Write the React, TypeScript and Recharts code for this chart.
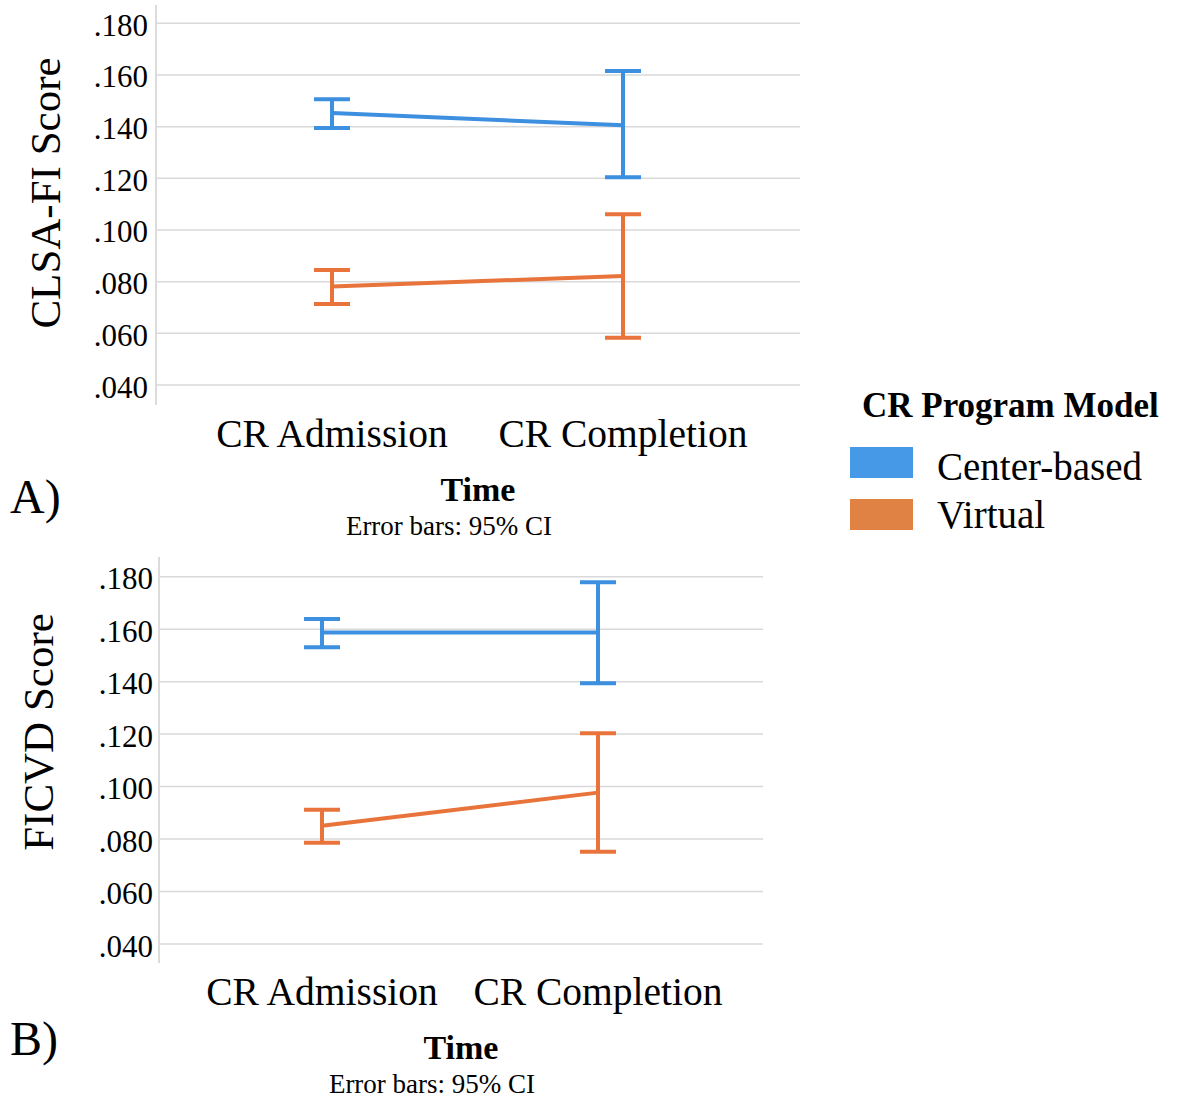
import React from "react";
import { LineChart, Line, XAxis, YAxis, CartesianGrid, ErrorBar, Legend } from "recharts";

const FONT = '"Liberation Serif", "Times New Roman", serif';
const BLUE = "#3d8fe0";
const ORANGE = "#e8733b";
const SWATCH: Record<string, string> = { center: "#4599e6", virtual: "#e08243" };
const GRID = "#d9d9d9";

const timePoints = ["CR Admission", "CR Completion"];
const yTicks = [0.04, 0.06, 0.08, 0.1, 0.12, 0.14, 0.16, 0.18];

// A) CLSA-FI score, mean and 95% CI
const clsaCenterMean = [0.1453, 0.1405];
const clsaCenterLow = [0.1395, 0.1204];
const clsaCenterHigh = [0.1506, 0.1615];
const clsaVirtualMean = [0.0781, 0.0822];
const clsaVirtualLow = [0.0714, 0.0583];
const clsaVirtualHigh = [0.0845, 0.1061];

// B) FICVD score, mean and 95% CI
const ficvdCenterMean = [0.1587, 0.1587];
const ficvdCenterLow = [0.1531, 0.1394];
const ficvdCenterHigh = [0.1639, 0.1779];
const ficvdVirtualMean = [0.0851, 0.0977];
const ficvdVirtualLow = [0.0786, 0.0752];
const ficvdVirtualHigh = [0.0912, 0.1203];

function buildRows(
  cMean: number[], cLow: number[], cHigh: number[],
  vMean: number[], vLow: number[], vHigh: number[]
) {
  return timePoints.map((time, i) => ({
    time,
    center: cMean[i],
    centerErr: [cMean[i] - cLow[i], cHigh[i] - cMean[i]],
    virtual: vMean[i],
    virtualErr: [vMean[i] - vLow[i], vHigh[i] - vMean[i]],
  }));
}

const clsaRows = buildRows(clsaCenterMean, clsaCenterLow, clsaCenterHigh, clsaVirtualMean, clsaVirtualLow, clsaVirtualHigh);
const ficvdRows = buildRows(ficvdCenterMean, ficvdCenterLow, ficvdCenterHigh, ficvdVirtualMean, ficvdVirtualLow, ficvdVirtualHigh);

const fmt = (v: number) => v.toFixed(3).replace(/^0/, "");

const XTick = ({ x, y, payload }: any) => (
  <text x={x} y={y + 42} textAnchor="middle" fontSize={39.5} fill="#000">
    {payload.value}
  </text>
);

const makeYTick = (gap: number) => ({ x, y, payload }: any) => (
  <text x={x - gap} y={y + 12.5} textAnchor="end" fontSize={31} fill="#000">
    {fmt(payload.value)}
  </text>
);

const timeTitle = (letter: string, letterDy: number) => (props: any) => {
  const vb = props.viewBox;
  const cx = vb.x + vb.width / 2;
  return (
    <g>
      <text x={cx} y={vb.y + 96} textAnchor="middle" fontWeight="bold" fontSize={34} fill="#000">
        Time
      </text>
      <text x={cx - 29} y={vb.y + 130} textAnchor="middle" fontSize={27} fill="#000">
        Error bars: 95% CI
      </text>
      <text x={10} y={vb.y + letterDy} fontSize={48} fill="#000">
        {letter}
      </text>
    </g>
  );
};

const scoreTitle = (text: string, bx: number, cy: number) => () => (
  <text transform={`translate(${bx},${cy}) rotate(-90)`} textAnchor="middle" fontSize={43} fill="#000">
    {text}
  </text>
);

const ProgramLegend = ({ payload }: any) => (
  <svg width={327} height={160} style={{ fontFamily: FONT }}>
    <text x={12} y={37} fontWeight="bold" fontSize={35} fill="#000">
      CR Program Model
    </text>
    {(payload || []).map((p: any, i: number) => (
      <g key={p.value}>
        <rect x={0} y={67 + i * 52} width={63} height={31} fill={SWATCH[p.dataKey] || p.color} />
        <text x={87} y={100 + i * 48} fontSize={39} fill="#000">
          {p.value}
        </text>
      </g>
    ))}
  </svg>
);

function ScoreChart({
  rows, width, height, margin, yWidth, xHeight, domain, pad, yGap, xLabel, yLabel, showLegend,
}: any) {
  return (
    <LineChart width={width} height={height} data={rows} margin={margin}>
      <CartesianGrid horizontal vertical={false} horizontalValues={yTicks} stroke={GRID} strokeWidth={1.5} />
      <XAxis
        dataKey="time"
        type="category"
        scale="point"
        padding={pad}
        axisLine={false}
        tickLine={false}
        tickSize={0}
        tickMargin={0}
        interval={0}
        height={xHeight}
        tick={<XTick />}
        label={{ content: xLabel }}
      />
      <YAxis
        type="number"
        domain={domain}
        ticks={yTicks}
        interval={0}
        allowDataOverflow
        width={yWidth}
        axisLine={{ stroke: "#dcdcdc", strokeWidth: 2 }}
        tickLine={false}
        tickSize={0}
        tickMargin={0}
        tick={makeYTick(yGap)}
        label={{ content: yLabel }}
      />
      {showLegend && (
        <Legend
          layout="vertical"
          align="center"
          verticalAlign="middle"
          content={<ProgramLegend />}
          wrapperStyle={{ left: 850, top: 380, width: 327, height: 160 }}
        />
      )}
      <Line
        type="linear"
        dataKey="center"
        name="Center-based"
        stroke={BLUE}
        strokeWidth={4}
        dot={false}
        activeDot={false}
        isAnimationActive={false}
      >
        <ErrorBar dataKey="centerErr" direction="y" width={18} strokeWidth={4} stroke={BLUE} isAnimationActive={false} />
      </Line>
      <Line
        type="linear"
        dataKey="virtual"
        name="Virtual"
        stroke={ORANGE}
        strokeWidth={4}
        dot={false}
        activeDot={false}
        isAnimationActive={false}
      >
        <ErrorBar dataKey="virtualErr" direction="y" width={18} strokeWidth={4} stroke={ORANGE} isAnimationActive={false} />
      </Line>
    </LineChart>
  );
}

export default function App() {
  return (
    <div
      style={{
        position: "absolute",
        left: 0,
        top: 0,
        width: 1177,
        height: 1099,
        background: "#fff",
        fontFamily: FONT,
        overflow: "hidden",
      }}
    >
      <div style={{ position: "absolute", left: 0, top: 0 }}>
        <ScoreChart
          rows={clsaRows}
          width={1177}
          height={545}
          margin={{ top: 5, right: 377, bottom: 0, left: 0 }}
          yWidth={156}
          xHeight={140}
          domain={[0.03226, 0.18708]}
          pad={{ left: 176, right: 177 }}
          yGap={8}
          xLabel={timeTitle("A)", 108)}
          yLabel={scoreTitle("CLSA-FI Score", 60, 193)}
          showLegend
        />
      </div>
      <div style={{ position: "absolute", left: 0, top: 545 }}>
        <ScoreChart
          rows={ficvdRows}
          width={780}
          height={554}
          margin={{ top: 12, right: 17, bottom: 0, left: 0 }}
          yWidth={159}
          xHeight={136}
          domain={[0.03276, 0.18751]}
          pad={{ left: 163, right: 165 }}
          yGap={6}
          xLabel={timeTitle("B)", 92)}
          yLabel={scoreTitle("FICVD Score", 53, 187)}
          showLegend={false}
        />
      </div>
    </div>
  );
}
